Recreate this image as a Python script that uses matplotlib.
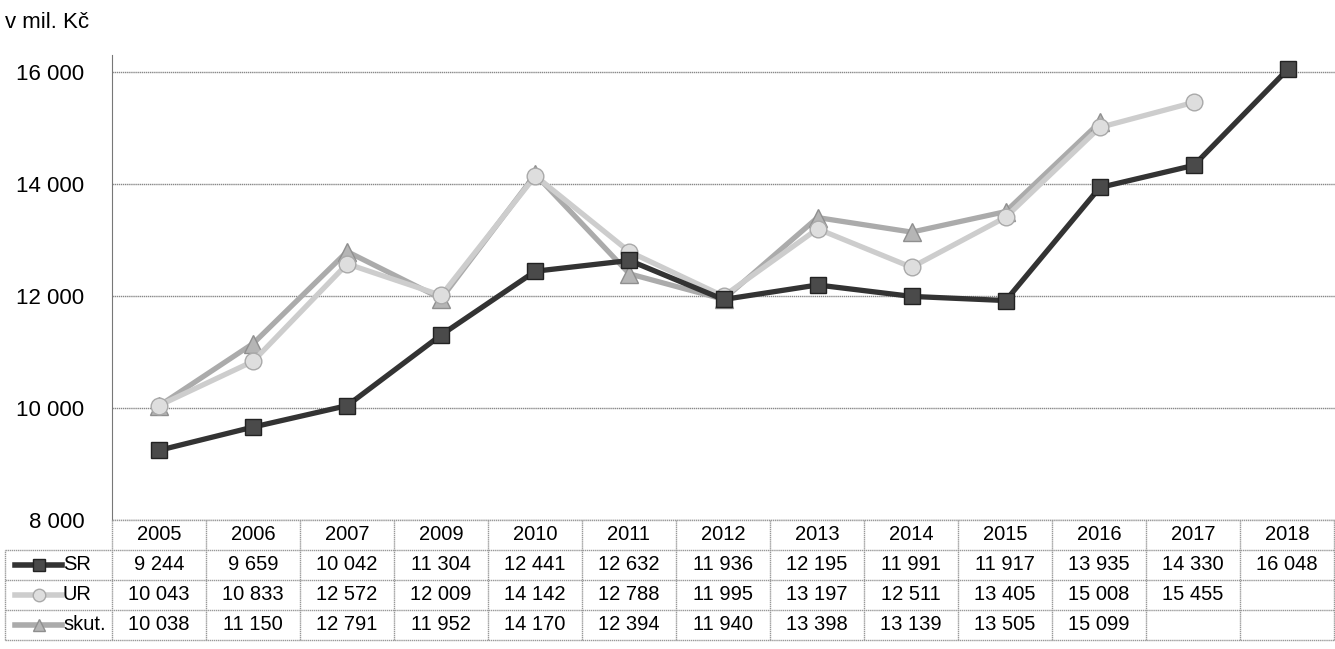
import matplotlib.pyplot as plt
import numpy as np

plt.rcParams['font.family'] = ['Liberation Sans', 'DejaVu Sans']

years = ["2005", "2006", "2007", "2009", "2010", "2011", "2012", "2013",
         "2014", "2015", "2016", "2017", "2018"]
sr = [9244, 9659, 10042, 11304, 12441, 12632, 11936, 12195, 11991, 11917, 13935, 14330, 16048]
ur = [10043, 10833, 12572, 12009, 14142, 12788, 11995, 13197, 12511, 13405, 15008, 15455, None]
skut = [10038, 11150, 12791, 11952, 14170, 12394, 11940, 13398, 13139, 13505, 15099, None, None]
y_ticks = [8000, 10000, 12000, 14000, 16000]
y_labels = ["8 000", "10 000", "12 000", "14 000", "16 000"]

def fmt(v):
    if v is None:
        return ""
    return "{:,}".format(v).replace(",", " ")

fig = plt.figure(figsize=(13.35, 6.49), dpi=100)
ax = fig.add_axes([112/1335, 1-520/649, 1-112/1335, (520-55)/649])

x = np.arange(len(years))
def arr(v):
    return np.array([np.nan if a is None else a for a in v], dtype=float)

ax.plot(x, arr(skut), color="#ababab", lw=3.8, marker="^", ms=13,
        mfc="#b5b5b5", mec="#8f8f8f", zorder=3)
ax.plot(x, arr(ur), color="#cdcdcd", lw=3.8, marker="o", ms=12,
        mfc="#dedede", mec="#a9a9a9", zorder=4)
ax.plot(x, arr(sr), color="#333333", lw=3.8, marker="s", ms=11.5,
        mfc="#4a4a4a", mec="#222222", zorder=5)

ax.set_xlim(-0.5, len(years) - 0.5)
ax.set_ylim(8000, 16300)
ax.set_yticks(y_ticks)
ax.set_yticklabels(y_labels, fontsize=16)
ax.set_xticks([])
ax.tick_params(axis="y", length=0, pad=20)
for s in ["top", "right", "bottom"]:
    ax.spines[s].set_visible(False)
ax.spines["left"].set_color("#777777")
ax.yaxis.grid(True, color="#888888", lw=1, ls=(0, (1, 0.5)))
ax.set_axisbelow(True)

fig.text(5/1335, 1-22/649, "v mil. Kč", fontsize=16, va="center", ha="left")

# data table below the chart
row_h = 30/649
top = 1-520/649
rows = [("", years), ("SR", [fmt(v) for v in sr]), ("UR", [fmt(v) for v in ur]),
        ("skut.", [fmt(v) for v in skut])]
gc = "#999999"
for r, (name, vals) in enumerate(rows):
    yc = top - (r + 0.5) * row_h
    for i, t in enumerate(vals):
        fig.text((112 + (i + 0.5) * 94) / 1335, yc, t, fontsize=14.5,
                 ha="center", va="center")
    if name:
        fig.text(63/1335, yc, name, fontsize=14.5, ha="left", va="center")
# horizontal lines
for r in range(5):
    yy = top - r * row_h
    x0 = 112/1335 if r == 0 else 5/1335
    fig.add_artist(plt.Line2D([x0, 1], [yy, yy], color=gc, lw=1, ls=(0, (1, 0.5))))
# vertical lines
for i in range(14):
    xx = (112 + i * 94) / 1335
    fig.add_artist(plt.Line2D([xx, xx], [top - 4*row_h, top], color=gc, lw=1, ls=(0, (1, 0.5))))
fig.add_artist(plt.Line2D([5/1335, 5/1335], [top - 4*row_h, top - row_h], color=gc, lw=1, ls=(0, (1, 0.5))))

# legend keys in table
styles = [("#333333", "s", "#4a4a4a", "#222222"), ("#cdcdcd", "o", "#dedede", "#a9a9a9"),
          ("#ababab", "^", "#b5b5b5", "#8f8f8f")]
for r, (c, m, fc, ec) in enumerate(styles):
    yc = top - (r + 1.5) * row_h
    fig.add_artist(plt.Line2D([15/1335, 62/1335], [yc, yc], color=c, lw=4))
    fig.add_artist(plt.Line2D([39/1335], [yc], marker=m, ms=9, mfc=fc, mec=ec, color=c))

fig.savefig("out.png", dpi=100)
